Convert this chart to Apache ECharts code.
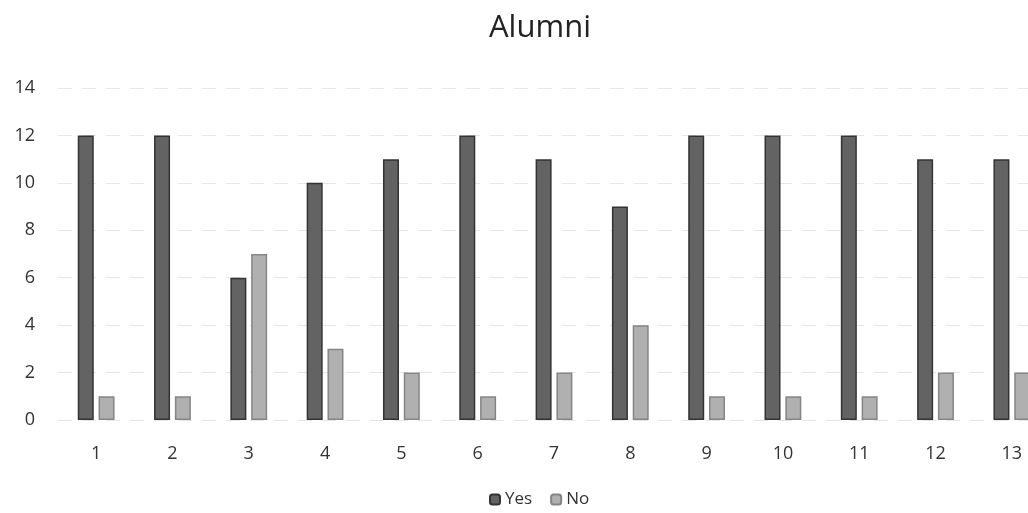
<!DOCTYPE html>
<html>
<head>
<meta charset="utf-8">
<script src="https://cdn.jsdelivr.net/npm/echarts@6/dist/echarts.min.js"></script>
<style>
html,body{margin:0;padding:0;background:#fff;overflow:hidden;width:1028px;height:513px;}
#chart{width:1050px;height:513px;}
</style>
</head>
<body>
<div id="chart"></div>
<script>
const categories = ['1','2','3','4','5','6','7','8','9','10','11','12','13'];
const yesValues = [12,12,6,10,11,12,11,9,12,12,12,11,11];
const noValues = [1,1,7,3,2,1,2,4,1,1,1,2,2];
const seriesNames = ['Yes','No'];
const titleText = 'Alumni';

const chart = echarts.init(document.getElementById('chart'), null, {renderer:'canvas'});
const font = '"Open Sans", Lato, sans-serif';
chart.setOption({
  animation:false,
  backgroundColor:'#ffffff',
  title:{text:titleText,left:535,top:8,textAlign:'center',
    textStyle:{fontFamily:font,fontSize:31,fontWeight:'normal',color:'#222'}},
  legend:{data:seriesNames,bottom:0,left:484,itemWidth:10,itemHeight:10,itemGap:18,
    textStyle:{fontFamily:font,fontSize:17,color:'#333'}},
  grid:{left:58,right:0,top:88,bottom:93,containLabel:false},
  xAxis:{type:'category',data:categories,
    axisLine:{show:false},axisTick:{show:false},
    axisLabel:{fontFamily:font,fontSize:18,color:'#333',margin:25}},
  yAxis:{type:'value',min:0,max:14,interval:2,
    axisLine:{show:false},axisTick:{show:false},
    axisLabel:{fontFamily:font,fontSize:18,color:'#333',margin:23,align:'right'},
    splitLine:{lineStyle:{color:'#e6e6e6',type:[14,10],width:1}}},
  series:[
    {name:seriesNames[0],type:'bar',data:yesValues,barWidth:16,barGap:'30%',
      itemStyle:{color:'#636363',borderColor:'#333333',borderWidth:1.5}},
    {name:seriesNames[1],type:'bar',data:noValues,barWidth:16,
      itemStyle:{color:'#b0b0b0',borderColor:'#858585',borderWidth:1.5}}
  ]
});
</script>
</body>
</html>
